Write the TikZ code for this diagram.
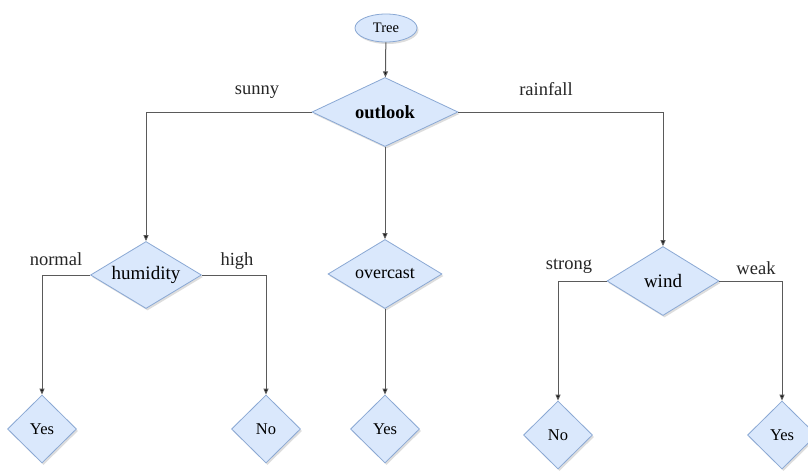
\documentclass[tikz,border=0pt]{standalone}
\usepackage{fontspec}
\setmainfont{Liberation Serif}
\usetikzlibrary{shapes.geometric,arrows.meta,shadows}
\definecolor{boxfill}{HTML}{DAE8FC}
\definecolor{boxline}{HTML}{8AA8D4}
\definecolor{wire}{HTML}{5A5A5A}
\tikzset{
  softshadow/.style={drop shadow={shadow xshift=1.5pt,shadow yshift=-2pt,opacity=0.22,fill=black!60}},
  decision/.style={diamond,shape aspect=1.65,draw=boxline,fill=boxfill,line width=0.8pt,inner sep=0pt,softshadow,
    font=\fontsize{19}{21}\selectfont},
  leaf/.style={decision,shape aspect=1,minimum width=69pt,minimum height=68pt,font=\fontsize{16.5}{18}\selectfont},
  rootnode/.style={ellipse,draw=boxline,fill=boxfill,line width=0.8pt,inner sep=0pt,softshadow,
    minimum width=62pt,minimum height=28pt,font=\fontsize{14.5}{16}\selectfont},
  branch/.style={font=\fontsize{18.5}{20}\selectfont,text=black!85},
  wireline/.style={draw=wire,line width=1pt,-{Triangle[length=6pt,width=5pt,fill=black]}},
}
\begin{document}
\begin{tikzpicture}[x=1pt,y=-1pt]
  \fill[white] (0,0) rectangle (808,472);
  \useasboundingbox (0,0) rectangle (808,472);

  % root and first test
  \node[rootnode] (tree) at (386,28) {Tree};
  \node[decision,shape aspect=2.1,minimum width=146pt,minimum height=69pt,font=\fontsize{18.5}{20}\selectfont]
    (outlook) at (385,112) {\textbf{outlook}};

  % second level tests
  \node[decision,minimum width=111pt,minimum height=67pt] (humidity) at (146,275) {humidity};
  \node[decision,minimum width=114pt,minimum height=69pt,font=\fontsize{18}{20}\selectfont]
    (overcast) at (385,274) {overcast};
  \node[decision,minimum width=112pt,minimum height=69pt] (wind) at (663,281) {wind};

  % leaves
  \node[leaf] (yesA) at (42,429) {Yes};
  \node[leaf] (noA) at (266,429) {No};
  \node[leaf] (yesB) at (385,429) {Yes};
  \node[leaf] (noB) at (558,435) {No};
  \node[leaf] (yesC) at (782,435) {Yes};

  % connectors
  \draw[wireline] (tree) -- (outlook);
  \draw[wireline] (outlook.west) -| (humidity.north);
  \draw[wireline] (outlook.south) -- (overcast.north);
  \draw[wireline] (outlook.east) -| (wind.north);
  \draw[wireline] (humidity.west) -| (yesA.north);
  \draw[wireline] (humidity.east) -| (noA.north);
  \draw[wireline] (overcast.south) -- (yesB.north);
  \draw[wireline] (wind.west) -| (noB.north);
  \draw[wireline] (wind.east) -| (yesC.north);

  % branch labels
  \node[branch] (lsunny) at (257,92) {sunny};
  \node[branch] (lrain) at (546,89) {rainfall};
  \node[branch] (lnormal) at (56,259) {normal};
  \node[branch] (lhigh) at (237,261) {high};
  \node[branch] (lstrong) at (569,266) {strong};
  \node[branch] (lweak) at (756,268) {weak};
\end{tikzpicture}
\end{document}
